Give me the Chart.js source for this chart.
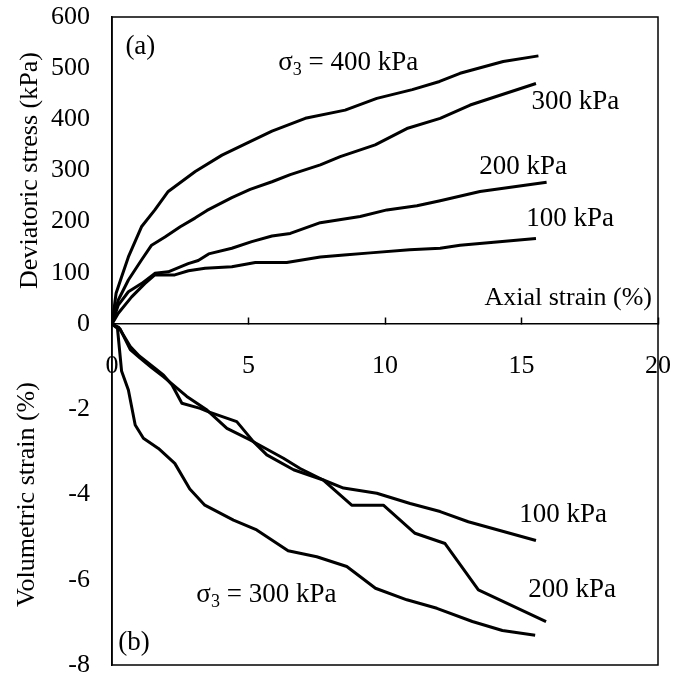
<!DOCTYPE html>
<html><head><meta charset="utf-8">
<script src="https://cdn.jsdelivr.net/npm/chart.js@4/dist/chart.umd.min.js"></script>
<style>html,body{margin:0;padding:0;background:#fff}#wrap{width:675px;height:681px}</style>
</head><body><div id="wrap"><canvas id="c" width="675" height="681"></canvas></div>
<script>
// ---- (a) Deviatoric stress (kPa) vs axial strain (%) ----
const strain400 = [0, 0.15, 0.35, 0.6, 1.08, 1.57, 2.06, 3.05, 4.03, 5.0, 5.86, 7.08, 8.54, 9.7, 11.0, 12.0, 12.75, 14.33, 15.62];
const stress400 = [0, 60, 92, 131, 190, 223, 259, 298, 330, 355, 377, 402, 418, 441, 458, 474, 490, 513, 524];
const strain300 = [0, 0.23, 0.6, 1.08, 1.45, 1.94, 2.5, 3.04, 3.48, 4.39, 5.06, 5.86, 6.53, 7.63, 8.36, 9.64, 10.8, 12.02, 13.12, 15.53];
const stress300 = [0, 47, 86, 125, 154, 170, 190, 207, 222, 247, 263, 278, 292, 311, 327, 350, 382, 402, 428, 470];
const strain200 = [0, 0.23, 0.6, 1.08, 1.57, 2.06, 2.79, 3.16, 3.54, 4.39, 5.12, 5.86, 6.53, 7.63, 9.09, 10.07, 11.17, 12.02, 13.48, 15.92];
const stress200 = [0, 37, 63, 79, 99, 102, 118, 124, 137, 148, 161, 172, 177, 198, 210, 223, 231, 241, 259, 277];
const strain100 = [0, 0.23, 0.72, 1.2, 1.57, 2.3, 2.8, 3.41, 4.39, 5.25, 6.4, 7.63, 8.5, 9.46, 10.9, 12.02, 12.75, 15.53];
const stress100 = [0, 21, 53, 79, 96, 96, 104, 109, 112, 120, 120, 131, 135, 139, 145, 148, 154, 167];

// ---- (b) Volumetric strain (%) vs axial strain (%) ----
const vStrain300 = [0, 0.2, 0.35, 0.6, 0.85, 1.15, 1.7, 2.3, 2.85, 3.4, 4.45, 5.3, 6.45, 7.5, 8.6, 9.65, 10.8, 11.9, 13.2, 14.3, 15.5];
const vol300     = [0, -0.1, -1.1, -1.55, -2.37, -2.68, -2.92, -3.27, -3.87, -4.25, -4.6, -4.83, -5.32, -5.46, -5.69, -6.2, -6.47, -6.67, -6.98, -7.19, -7.3];
const vStrain200 = [0, 0.25, 0.67, 1.0, 1.5, 1.89, 2.2, 2.56, 3.23, 3.54, 4.57, 5.18, 5.67, 6.65, 7.74, 8.78, 9.94, 11.1, 12.2, 13.42, 15.9];
const vol200     = [0, -0.08, -0.53, -0.75, -1.0, -1.2, -1.43, -1.86, -1.98, -2.06, -2.29, -2.76, -3.07, -3.42, -3.66, -4.25, -4.25, -4.91, -5.15, -6.24, -6.98];
const vStrain100 = [0, 0.3, 0.67, 1.03, 1.45, 1.89, 2.74, 3.48, 4.21, 5.06, 6.28, 6.89, 7.74, 8.48, 9.7, 10.92, 12.02, 13.05, 15.53];
const vol100     = [0, -0.12, -0.6, -0.8, -1.02, -1.24, -1.7, -2.02, -2.45, -2.72, -3.15, -3.39, -3.66, -3.85, -3.97, -4.21, -4.4, -4.64, -5.08];

// ---- axis settings ----
const xTicks = {min: 0, max: 20, step: 5};
const stressTicks = {min: 0, max: 600, step: 100};
const volTicks = {min: -8, max: 0, step: 2};

// ---- text annotations (data coordinates) ----
const notes = [
  {axis: 'yt', x: 0.49, y: 541, text: '(a)'},
  {axis: 'yt', x: 6.09, y: 510, text: '400 kPa', sigma: true},
  {axis: 'yt', x: 15.37, y: 434, text: '300 kPa'},
  {axis: 'yt', x: 13.45, y: 307, text: '200 kPa'},
  {axis: 'yt', x: 15.17, y: 206, text: '100 kPa'},
  {axis: 'yt', x: 19.78, y: 51, text: 'Axial strain (%)', align: 'right', small: true},
  {axis: 'yb', x: 0.23, y: -7.48, text: '(b)'},
  {axis: 'yb', x: 3.09, y: -6.36, text: '300 kPa', sigma: true},
  {axis: 'yb', x: 14.92, y: -4.48, text: '100 kPa'},
  {axis: 'yb', x: 15.25, y: -6.24, text: '200 kPa'}
];

const FONT = '"Liberation Serif", "Times New Roman", serif';
const FS = 26;
const FN = 27;

const pts = (xs, ys) => xs.map((x, i) => ({x: x, y: ys[i]}));
const line = (label, xs, ys, yAxisID) => ({
  label, data: pts(xs, ys), xAxisID: 'x', yAxisID, showLine: true,
  borderColor: '#000', backgroundColor: '#000', borderWidth: 3,
  pointRadius: 0, fill: false, tension: 0, borderJoinStyle: 'round', borderCapStyle: 'butt'
});

const framePlugin = {
  id: 'frame',
  afterDraw(chart) {
    const {ctx, chartArea: a} = chart;
    ctx.save();
    ctx.strokeStyle = '#000';
    ctx.lineWidth = 1.5;
    ctx.strokeRect(a.left, a.top, a.right - a.left, a.bottom - a.top);
    ctx.restore();
  }
};

const textPlugin = {
  id: 'notes',
  afterDraw(chart) {
    const {ctx} = chart;
    const xs = chart.scales.x;
    ctx.save();
    ctx.fillStyle = '#000';
    ctx.textBaseline = 'middle';
    notes.forEach(n => {
      const px = xs.getPixelForValue(n.x);
      const py = chart.scales[n.axis].getPixelForValue(n.y);
      const fs = n.small ? FS : FN;
      ctx.font = fs + 'px ' + FONT;
      if (n.sigma) {
        ctx.textAlign = 'left';
        let cx = px;
        ctx.fillText('\u03C3', cx, py);
        cx += ctx.measureText('\u03C3').width;
        ctx.font = Math.round(fs * 0.68) + 'px ' + FONT;
        ctx.fillText('3', cx, py + 7);
        cx += ctx.measureText('3').width;
        ctx.font = fs + 'px ' + FONT;
        ctx.fillText(' = ' + n.text, cx, py);
      } else {
        ctx.textAlign = n.align || 'left';
        ctx.fillText(n.text, px, py);
      }
    });
    ctx.restore();
  }
};

const noEdgePadding = (s) => { s.paddingTop = 0; s.paddingBottom = 0; s.paddingLeft = 0; s.paddingRight = 0; };

const yCommon = (title, pad, ticks, hideZero) => ({
  type: 'linear', position: 'left', stack: 'v',
  min: ticks.min, max: ticks.max,
  ticks: {
    stepSize: ticks.step, autoSkip: false, padding: 22, color: '#000',
    font: {family: FONT, size: FS},
    callback: (v) => (hideZero && v === 0) ? '' : String(v)
  },
  grid: {display: false, drawTicks: false},
  border: {display: true, color: '#000', width: 1.5},
  title: {display: true, text: title, color: '#000', font: {family: FONT, size: FS}, padding: {top: pad, bottom: 0}},
  afterFit(s) { s.width = 112; noEdgePadding(s); }
});

const yb = yCommon('Volumetric strain (%)', 12, volTicks, false);
yb.stackWeight = 341;
const yt = yCommon('Deviatoric stress (kPa)', 14.4, stressTicks, true);
yt.stackWeight = 307;

new Chart(document.getElementById('c').getContext('2d'), {
  type: 'scatter',
  data: {
    datasets: [
      line('σ3 = 400 kPa', strain400, stress400, 'yt'),
      line('300 kPa', strain300, stress300, 'yt'),
      line('200 kPa', strain200, stress200, 'yt'),
      line('100 kPa', strain100, stress100, 'yt'),
      line('σ3 = 300 kPa (vol)', vStrain300, vol300, 'yb'),
      line('200 kPa (vol)', vStrain200, vol200, 'yb'),
      line('100 kPa (vol)', vStrain100, vol100, 'yb')
    ]
  },
  options: {
    responsive: false, animation: false, devicePixelRatio: 1,
    layout: {padding: {left: 0, right: 17, top: 17, bottom: 16}},
    plugins: {legend: {display: false}, tooltip: {enabled: false}},
    scales: {
      yb: yb,
      yt: yt,
      x: {
        type: 'linear', position: {yb: 0},
        min: xTicks.min, max: xTicks.max,
        ticks: {stepSize: xTicks.step, autoSkip: false, maxRotation: 0, padding: 34, color: '#000', font: {family: FONT, size: FS}},
        grid: {display: true, drawOnChartArea: false, drawTicks: true, tickLength: -7, color: '#000', tickWidth: 1.5},
        border: {display: true, color: '#000', width: 1.5},
        afterFit: noEdgePadding
      }
    }
  },
  plugins: [framePlugin, textPlugin]
});
</script></body></html>
